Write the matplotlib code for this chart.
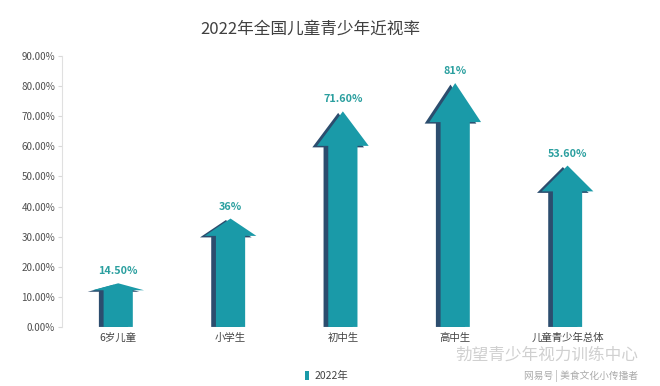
import matplotlib
matplotlib.use("Agg")
import matplotlib.pyplot as plt
from matplotlib.patches import Polygon, Rectangle
from matplotlib.ticker import FuncFormatter

plt.rcParams['font.family'] = ['Noto Sans CJK SC', 'DejaVu Sans']

categories = ["6岁儿童", "小学生", "初中生", "高中生", "儿童青少年总体"]
values = [14.5, 36, 71.6, 81, 53.6]
value_labels = ["14.50%", "36%", "71.60%", "81%", "53.60%"]
yticks = [0, 10, 20, 30, 40, 50, 60, 70, 80, 90]
series_name = "2022年"

TEAL = "#1a9aa8"
DARK = "#2c4d6e"
LABEL = "#2a9f9f"


def arrow_pts(x, v, dx=0.0, dy=0.0):
    shaft = 0.13
    head = 0.23
    hl = 0.16 * v
    return [(x - shaft + dx, 0), (x + shaft + dx, 0),
            (x + shaft + dx, v - hl + dy), (x + head + dx, v - hl + dy),
            (x + dx, v + dy), (x - head + dx, v - hl + dy),
            (x - shaft + dx, v - hl + dy)]


fig = plt.figure(figsize=(6.6, 3.86), dpi=100)
ax = fig.add_axes([0.094, 0.153, 0.851, 0.702])

for i, (v, lab) in enumerate(zip(values, value_labels)):
    # darker side face, peeking out on the left
    ax.add_patch(Polygon(arrow_pts(i, v, dx=-0.042, dy=-0.5), closed=True,
                         facecolor=DARK, edgecolor="none"))
    ax.add_patch(Polygon(arrow_pts(i, v), closed=True,
                         facecolor=TEAL, edgecolor="none"))
    ax.annotate(lab, (i, v), xytext=(0, 5), textcoords="offset points",
                ha="center", va="bottom", fontsize=7.8, fontweight="bold",
                color=LABEL)

ax.set_xlim(-0.5, len(categories) - 0.5)
ax.set_ylim(0, 90)
ax.set_xticks(range(len(categories)))
ax.set_xticklabels(categories, fontsize=7.5, color="#444444")
ax.set_yticks(yticks)
ax.yaxis.set_major_formatter(FuncFormatter(lambda y, _: f"{y:.2f}%"))
ax.tick_params(axis="y", labelsize=7.1, labelcolor="#505050", length=3,
               color="#d9d9d9", pad=2)
ax.tick_params(axis="x", length=0, pad=4)
for s in ["top", "right", "bottom"]:
    ax.spines[s].set_visible(False)
ax.spines["left"].set_color("#e0e0e0")

fig.text(0.47, 0.925, "2022年全国儿童青少年近视率", ha="center", va="center",
         fontsize=12, color="#404040")

fig.legend([Rectangle((0, 0), 1, 1, facecolor=TEAL)], [series_name],
           loc="center", bbox_to_anchor=(0.495, 0.026), frameon=False,
           fontsize=7.5, handlelength=0.35, handleheight=0.9, handletextpad=0.6,
           labelcolor="#444444")

# watermark
fig.text(0.828, 0.08, "勃望青少年视力训练中心", ha="center", va="center",
         fontsize=12, color="#d0d0d0")
fig.text(0.88, 0.026, "网易号 | 美食文化小传播者", ha="center", va="center",
         fontsize=7, color="#aaaaaa")

fig.savefig("out.png", dpi=100)
